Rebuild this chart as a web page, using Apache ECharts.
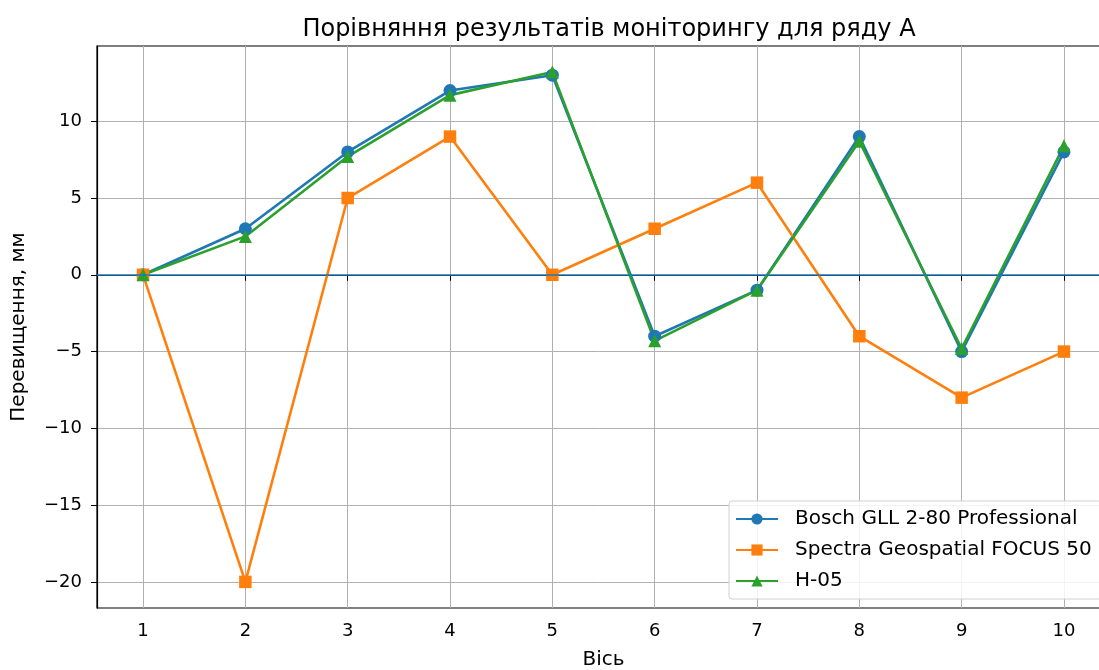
<!DOCTYPE html>
<html>
<head>
<meta charset="utf-8">
<script src="https://cdn.jsdelivr.net/npm/echarts@6/dist/echarts.min.js"></script>
<style>html,body{margin:0;padding:0;background:#fff;}#c{width:1099px;height:670px;}</style>
</head>
<body>
<div id="c"></div>
<script>
const xValues = [1, 2, 3, 4, 5, 6, 7, 8, 9, 10];
const bosch = [0, 3, 8, 12, 13, -4, -1, 9, -5, 8];
const spectra = [0, -20, 5, 9, 0, 3, 6, -4, -8, -5];
const h05 = [0, 2.5, 7.7, 11.7, 13.2, -4.3, -1, 8.7, -4.8, 8.4];
const yTicks = [-20, -15, -10, -5, 0, 5, 10];
const xTicks = [1, 2, 3, 4, 5, 6, 7, 8, 9, 10];
const seriesNames = ['Bosch GLL 2-80 Professional', 'Spectra Geospatial FOCUS 50', 'Н-05'];

const font = 'DejaVu Sans';
const pair = arr => xValues.map((x, i) => [x, arr[i]]);
const minus = v => String(v).replace('-', '\u2212');

const chart = echarts.init(document.getElementById('c'), null, {renderer: 'canvas'});
const lineSeries = (name, data, color, symbol, size) => ({
  name, type: 'line', data: pair(data), symbol, symbolSize: size,
  showSymbol: true,
  lineStyle: {color, width: 2.6},
  itemStyle: {color, borderWidth: 0},
  emphasis: {disabled: true},
  animation: false
});
const s0 = lineSeries(seriesNames[0], bosch, '#1f77b4', 'circle', 13);
s0.markLine = {
  silent: true, symbol: 'none', animation: false,
  label: {show: false},
  lineStyle: {color: '#1f77b4', width: 1.5, type: 'solid'},
  data: [{yAxis: 0}]
};
chart.setOption({
  animation: false,
  backgroundColor: '#fff',
  title: {
    text: 'Порівняння результатів моніторингу для ряду А',
    left: 604, top: 13, textAlign: 'center',
    textStyle: {fontFamily: font, fontSize: 24, fontWeight: 'normal', color: '#000'}
  },
  grid: {left: 97, right: -11, top: 46, bottom: 62, show: true, borderColor: '#000', borderWidth: 1.2, backgroundColor: 'transparent', outerBoundsMode: 'none'},
  legend: {
    orient: 'vertical', left: 729, top: 501,
    padding: [8, 10, 8, 6],
    itemWidth: 42, itemHeight: 14, itemGap: 11,
    backgroundColor: 'rgba(255,255,255,0.85)', borderColor: '#d0d0d0', borderWidth: 1, borderRadius: 3,
    textStyle: {fontFamily: font, fontSize: 20, color: '#000', padding: [0, 0, 0, 12]},
    data: seriesNames
  },
  xAxis: {
    type: 'value', min: 0.55, max: 10.45,
    name: 'Вісь', nameLocation: 'middle', nameGap: 42,
    nameTextStyle: {fontFamily: font, fontSize: 20, color: '#000'},
    axisLine: {show: true, lineStyle: {color: '#000', width: 1.2}},
    axisTick: {show: true, length: 6, lineStyle: {color: '#000'}, customValues: xTicks},
    axisLabel: {fontFamily: font, fontSize: 18, color: '#000', margin: 14, customValues: xTicks, formatter: v => minus(v)},
    splitLine: {show: true, lineStyle: {color: '#b0b0b0', width: 1}}
  },
  yAxis: {
    type: 'value', min: -21.7, max: 14.9,
    name: 'Перевищення, мм', nameLocation: 'middle', nameGap: 68, nameRotate: 90,
    nameTextStyle: {fontFamily: font, fontSize: 20, color: '#000'},
    axisLine: {show: true, lineStyle: {color: '#000', width: 1.2}},
    axisTick: {show: true, length: 6, lineStyle: {color: '#000'}, customValues: yTicks},
    axisLabel: {fontFamily: font, fontSize: 18, color: '#000', margin: 15, customValues: yTicks, formatter: v => minus(v)},
    splitLine: {show: true, lineStyle: {color: '#b0b0b0', width: 1}}
  },
  series: [
    s0,
    lineSeries(seriesNames[1], spectra, '#ff7f0e', 'rect', 12.5),
    lineSeries(seriesNames[2], h05, '#2ca02c', 'triangle', 13)
  ]
});
</script>
</body>
</html>
